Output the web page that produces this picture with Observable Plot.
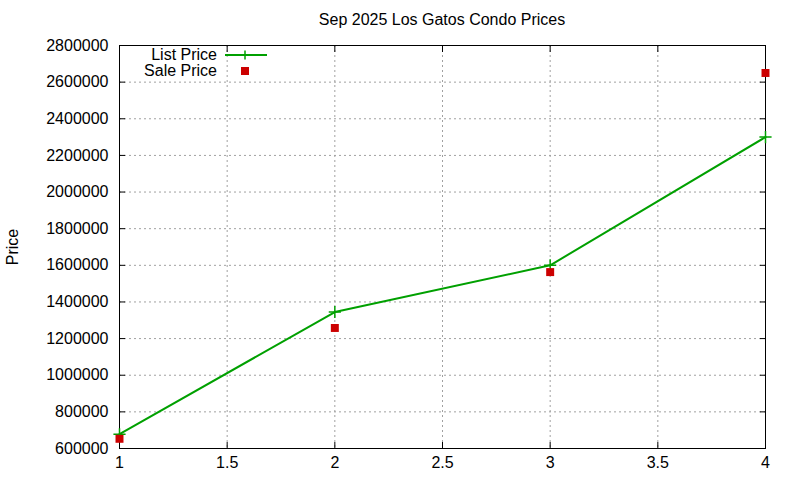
<!DOCTYPE html>
<html><head><meta charset="utf-8">
<script src="https://cdn.jsdelivr.net/npm/d3@7"></script>
<script src="https://cdn.jsdelivr.net/npm/@observablehq/plot@0.6"></script>
<style>
body{margin:0;background:#fff;font-family:"Liberation Sans",Arial,sans-serif;}
#wrap{position:relative;width:800px;height:480px;}
#title{position:absolute;left:119px;width:646px;top:10px;text-align:center;font-size:16px;line-height:20px;color:#000;}
#legend{position:absolute;left:100px;top:47px;width:180px;font-size:16px;}
.lrow{position:relative;height:16px;line-height:16px;}
.lrow span{position:absolute;right:63px;top:0;}
.lrow svg{position:absolute;left:125px;top:0;}
</style></head><body>
<div id="wrap">
<div id="title">Sep 2025 Los Gatos Condo Prices</div>
</div>
<script>
const months = [1, 2, 3, 4];
const listPrice = [678000, 1345000, 1600000, 2300000];
const salePrice = [653000, 1258000, 1563000, 2650000];
const xTicks = [1, 1.5, 2, 2.5, 3, 3.5, 4];
const yTicks = [600000, 800000, 1000000, 1200000, 1400000, 1600000, 1800000, 2000000, 2200000, 2400000, 2600000, 2800000];
const seriesNames = ["List Price", "Sale Price"];
const colors = {list: "#00a000", sale: "#cc0000"};

const listData = months.map((m, i) => ({x: m, y: listPrice[i]}));
const saleData = months.map((m, i) => ({x: m, y: salePrice[i]}));
const fmt = d => String(d);

const chart = Plot.plot({
  width: 800, height: 480,
  marginLeft: 119, marginRight: 35, marginTop: 45, marginBottom: 32,
  style: {fontFamily: '"Liberation Sans", Arial, sans-serif', fontSize: "16px", background: "white", color: "black", overflow: "visible"},
  x: {domain: [1, 4]},
  y: {domain: [600000, 2800000]},
  marks: [
    Plot.ruleX(xTicks, {x: d => d, stroke: "#a0a0a0", strokeDasharray: "2,3", strokeWidth: 1}),
    Plot.ruleY(yTicks, {y: d => d, stroke: "#a0a0a0", strokeDasharray: "2,3", strokeWidth: 1}),
    Plot.axisY(yTicks, {anchor: "left", tickSize: 0, tickPadding: 11, tickFormat: fmt, fill: "black", fontSize: 16,
      label: "Price", labelAnchor: "center", labelArrow: "none", labelOffset: 113}),
    Plot.axisY(yTicks, {anchor: "left", tickSize: -6, tickFormat: () => "", label: null, stroke: "black"}),
    Plot.axisY(yTicks, {anchor: "right", tickSize: -6, tickFormat: () => "", label: null, stroke: "black"}),
    Plot.axisX(xTicks, {anchor: "bottom", tickSize: 0, tickPadding: 8, tickFormat: fmt, fill: "black", fontSize: 16, label: null}),
    Plot.axisX(xTicks, {anchor: "bottom", tickSize: -6, tickFormat: () => "", label: null, stroke: "black"}),
    Plot.axisX(xTicks, {anchor: "top", tickSize: -6, tickFormat: () => "", label: null, stroke: "black"}),
    Plot.frame({stroke: "black", strokeWidth: 1}),
    Plot.line(listData, {x: "x", y: "y", stroke: colors.list, strokeWidth: 2}),
    Plot.dot(listData, {x: "x", y: "y", symbol: "plus", r: 4, stroke: colors.list, strokeWidth: 1.5}),
    Plot.dot(saleData, {x: "x", y: "y", symbol: "square", r: 4.5, fill: colors.sale, stroke: "none"})
  ]
});
const wrap = document.getElementById("wrap");
wrap.insertBefore(chart, wrap.firstChild);

const legend = document.createElement("div");
legend.id = "legend";
legend.innerHTML =
  `<div class="lrow"><span>${seriesNames[0]}</span><svg width="45" height="16"><line x1="0" y1="8" x2="42" y2="8" stroke="${colors.list}" stroke-width="2"/><line x1="20" y1="3.5" x2="20" y2="12.5" stroke="${colors.list}" stroke-width="1.5"/><line x1="15.5" y1="8" x2="24.5" y2="8" stroke="${colors.list}" stroke-width="1.5"/></svg></div>` +
  `<div class="lrow"><span>${seriesNames[1]}</span><svg width="45" height="16"><rect x="16" y="4" width="8" height="8" fill="${colors.sale}"/></svg></div>`;
wrap.appendChild(legend);
</script>
</body></html>
